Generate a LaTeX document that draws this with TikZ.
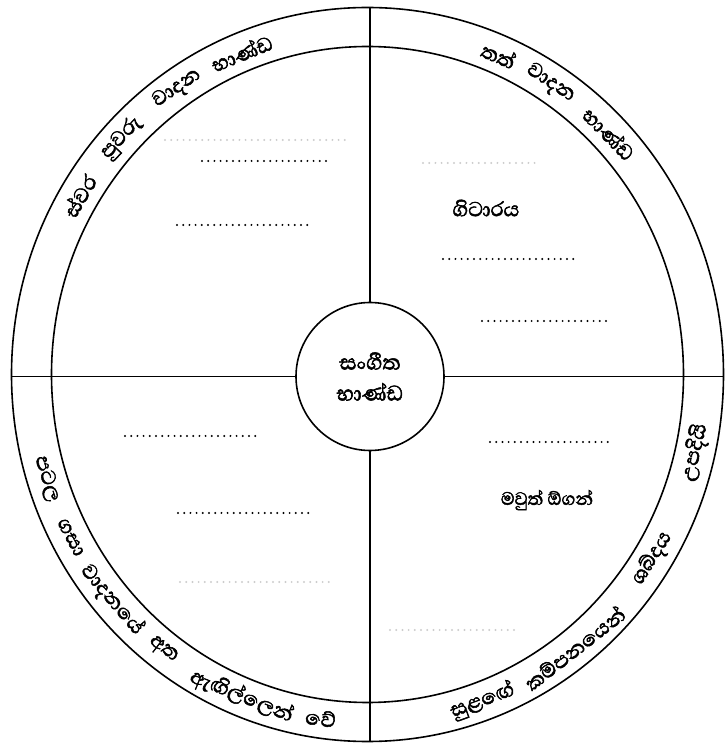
\documentclass[tikz,border=0pt]{standalone}
\usepackage{fontspec}
\newfontfamily\sinhalafont[Script=Sinhala, FakeBold=2]{Abhaya Libre}
\usetikzlibrary{calc}

\begin{document}
\begin{tikzpicture}[x=1pt, y=1pt, line width=1.6pt,
  ringword/.style={font=\sinhalafont\fontsize{26}{26}\selectfont, inner sep=0pt},
  quadlbl/.style={font=\sinhalafont\fontsize{26}{26}\selectfont, inner sep=1pt},
  fillline/.style={line width=2.2pt, line cap=round, dash pattern=on 0pt off 6.2pt},
  fadeline/.style={fillline, gray!40}]
\useasboundingbox (0,0) rectangle (726,745);
\coordinate (C) at (367.5,370.5);
% anneaux
\draw (C) ellipse [x radius=356, y radius=367];
\draw (C) ellipse [x radius=316, y radius=328];
% centre
\node[circle, draw, minimum size=148, inner sep=0pt, align=center,
  font=\sinhalafont\fontsize{27}{31}\selectfont] (hub) at (370,368.5) {සංගීත\\භාණ්ඩ};
% separateurs
\coordinate (oN) at (370,737.5);
\coordinate (oS) at (370,3.5);
\coordinate (oW) at (11.5,368.5);
\coordinate (oE) at (723.5,368.5);
\draw (hub.north) -- (oN);
\draw (hub.south) -- (oS);
\draw (hub.west) -- (oW);
\draw (hub.east) -- (oE);
% textes de l'anneau
\foreach \a/\w [count=\i] in {149/ස්වර, 137/පුවරු, 124.5/වාදන, 112/භාණ්ඩ}
  \path (C) ++(\a:336 and 347) node[ringword, rotate=\a-90] (tl\i) {\w};
\foreach \a/\w [count=\i] in {67/තත්, 57/වාදන, 44/භාණ්ඩ}
  \path (C) ++(\a:336 and 347) node[ringword, rotate=\a-90] (tr\i) {\w};
\foreach \a/\w [count=\i] in {197.5/පටල, 208/ගසා, 220.5/වාදනයේ, 232.5/අත, 248/ඇඟිල්ලෙන්, 262/වේ}
  \path (C) ++(\a:336 and 347) node[ringword, rotate=\a+90] (bl\i) {\w};
\foreach \a/\w [count=\i] in {290/සුළඟේ, 308/කම්පනයෙන්, 328/ශබ්දය, 347/උපදියි}
  \path (C) ++(\a:336 and 347) node[ringword, rotate=\a+90] (br\i) {\w};
% quadrants
\node[quadlbl] (guitar) at (486,537) {ගිටාරය};
\node[quadlbl, font=\sinhalafont\fontsize{23}{23}\selectfont] (mouthorg) at (547,245) {මවුත් ඕගන්};
% pointilles
\draw[fadeline] (165,605) -- (345,605);
\draw[fillline] (202,584) -- (332,584);
\draw[fillline] (177,520) -- (308,520);
\draw[fadeline] (423,582) -- (537,582);
\draw[fillline] (443,486) -- (578,486);
\draw[fillline] (482,424) -- (612,424);
\draw[fillline] (490,303) -- (610,303);
\draw[fadeline] (390,115) -- (520,115);
\draw[fillline] (125,309) -- (258,309);
\draw[fillline] (178,232) -- (310,232);
\draw[fadeline] (180,163) -- (330,163);
\end{tikzpicture}
\end{document}
